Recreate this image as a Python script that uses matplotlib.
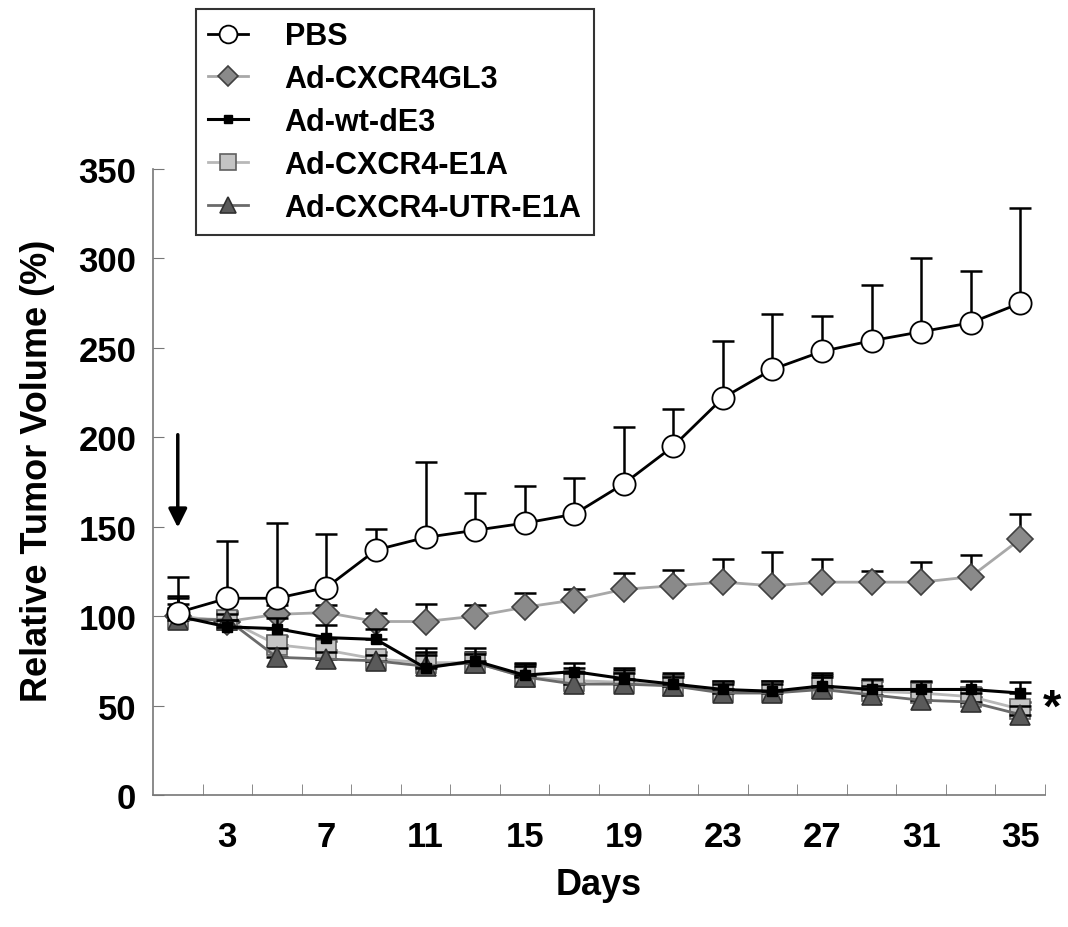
import numpy as np
import matplotlib.pyplot as plt

plt.rcParams['font.family'] = ['Liberation Sans', 'DejaVu Sans']
plt.rcParams['font.weight'] = 'bold'

# dani mjerenja
days = np.arange(1, 36, 2)

pbs = [102, 110, 110, 116, 137, 144, 148, 152, 157, 174, 195, 222, 238, 248, 254, 259, 264, 275]
pbs_top = [122, 142, 152, 146, 149, 186, 169, 173, 177, 206, 216, 254, 269, 268, 285, 300, 293, 328]

gl3 = [100, 97, 101, 102, 97, 97, 100, 105, 109, 115, 117, 119, 117, 119, 119, 119, 122, 143]
gl3_top = [111, 102, 106, 106, 102, 107, 106, 113, 115, 124, 126, 132, 136, 132, 125, 130, 134, 157]

wt = [100, 94, 93, 88, 87, 71, 75, 67, 69, 65, 62, 59, 58, 61, 59, 59, 59, 57]
wt_top = [107, 98, 99, 95, 93, 80, 82, 74, 74, 71, 68, 64, 64, 68, 65, 64, 64, 63]

e1a = [99, 98, 84, 81, 76, 74, 74, 66, 64, 63, 61, 58, 58, 60, 58, 57, 55, 48]
e1a_top = [110, 103, 89, 86, 80, 82, 80, 73, 71, 70, 67, 63, 64, 67, 64, 63, 60, 52]

utr = [98, 98, 77, 76, 75, 72, 74, 66, 62, 62, 61, 57, 57, 59, 56, 53, 52, 45]
utr_top = [104, 101, 82, 80, 78, 78, 79, 72, 68, 68, 66, 62, 62, 66, 61, 58, 57, 50]

labels = ["PBS", "Ad-CXCR4GL3", "Ad-wt-dE3", "Ad-CXCR4-E1A", "Ad-CXCR4-UTR-E1A"]

fig = plt.figure(figsize=(10.68, 9.28), dpi=100)
ax = fig.add_axes([153/1068, 132/928, (1045-153)/1068, (796-170)/928])

def crta(y, top, lab, z, **kw):
    y = np.array(y, float)
    err = np.array(top, float) - y
    ax.errorbar(days, y, yerr=[np.zeros_like(err), err], fmt='none',
                ecolor='black', elinewidth=1.8, capsize=8, capthick=1.8, zorder=z-0.5)
    ax.plot(days, y, label=lab, zorder=z, **kw)

crta(gl3, gl3_top, labels[1], 3, color='#a8a8a8', lw=2, marker='D', ms=13,
     mfc='#8a8a8a', mec='#404040', mew=1.2)
crta(e1a, e1a_top, labels[3], 4, color='#b8b8b8', lw=2, marker='s', ms=14,
     mfc='#c4c4c4', mec='#606060', mew=1.2)
crta(utr, utr_top, labels[4], 5, color='#6a6a6a', lw=2, marker='^', ms=15,
     mfc='#5a5a5a', mec='#303030', mew=1.2)
crta(wt, wt_top, labels[2], 6, color='black', lw=2.2, marker='s', ms=7,
     mfc='black', mec='black')
crta(pbs, pbs_top, labels[0], 7, color='black', lw=2, marker='o', ms=16,
     mfc='white', mec='black', mew=1.3)

ax.set_xlim(0, 36)
ax.set_ylim(0, 350)
ax.set_xticks(np.arange(3, 36, 4))
ax.set_xticks(np.arange(2, 37, 2), minor=True)
ax.set_yticks(np.arange(0, 351, 50))
ax.tick_params(axis='x', which='major', length=0, pad=18, labelsize=25)
ax.tick_params(axis='x', which='minor', direction='in', length=8, color='#777777')
ax.tick_params(axis='y', direction='in', length=8, color='#777777', pad=12, labelsize=25)
for t in ax.get_xticklabels() + ax.get_yticklabels():
    t.set_fontweight('bold')
for s in ['top', 'right']:
    ax.spines[s].set_visible(False)
for s in ['left', 'bottom']:
    ax.spines[s].set_color('#777777')
    ax.spines[s].set_linewidth(1.2)

ax.set_xlabel("Days", fontsize=26, fontweight='bold', labelpad=10)
ax.set_ylabel("Relative Tumor Volume (%)", fontsize=26, fontweight='bold')
ax.yaxis.set_label_coords(-0.11, 0.52)

# strelica - pocetak tretmana
ax.annotate('', xy=(1, 148), xytext=(1, 203),
            arrowprops=dict(arrowstyle='-|>', lw=2.5, color='black', mutation_scale=28))
ax.text(36.3, 48, '*', fontsize=34, fontweight='bold', ha='center', va='center', clip_on=False)

h, l = ax.get_legend_handles_labels()
order = [l.index(x) for x in labels]
leg = fig.legend([h[i] for i in order], [l[i] for i in order], loc='upper left',
                 bbox_to_anchor=(196/1068, 1-10/928), borderaxespad=0, fancybox=False,
                 edgecolor='black', markerscale=0.8, handlelength=1.3, labelspacing=0.42,
                 handletextpad=1.2, borderpad=0.4, prop={'weight': 'bold', 'size': 22})
leg.get_frame().set_linewidth(1.5)

fig.savefig("out.png", dpi=100)
